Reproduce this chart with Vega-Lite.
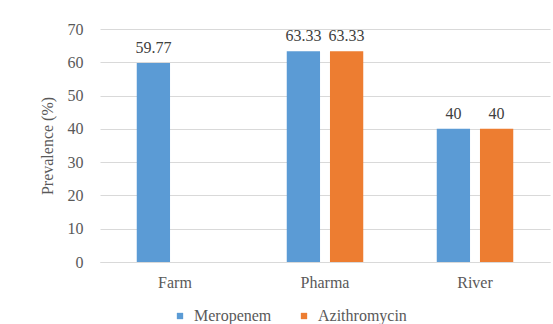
{
  "$schema": "https://vega.github.io/schema/vega-lite/v6.json",
  "width": 450,
  "height": 233,
  "autosize": "none",
  "padding": {"left": 100, "top": 29, "right": 3, "bottom": 62},
  "background": "white",
  "data": {
    "values": [
      {"site": "Farm", "drug": "Meropenem", "value": 59.77, "label": "59.77"},
      {"site": "Pharma", "drug": "Meropenem", "value": 63.33, "label": "63.33"},
      {"site": "Pharma", "drug": "Azithromycin", "value": 63.33, "label": "63.33"},
      {"site": "River", "drug": "Meropenem", "value": 40, "label": "40"},
      {"site": "River", "drug": "Azithromycin", "value": 40, "label": "40"}
    ]
  },
  "encoding": {
    "x": {
      "field": "site", "type": "nominal", "sort": ["Farm", "Pharma", "River"],
      "scale": {"paddingInner": 0.49, "paddingOuter": 0.245},
      "axis": {"title": null, "labelAngle": 0, "ticks": false, "domainColor": "#D9D9D9", "labelPadding": 12, "labelFontSize": 16, "labelColor": "#595959", "grid": false}
    },
    "xOffset": {
      "field": "drug", "type": "nominal", "sort": ["Meropenem", "Azithromycin"],
      "scale": {"paddingInner": 0.23, "paddingOuter": 0}
    },
    "y": {
      "field": "value", "type": "quantitative",
      "scale": {"domain": [0, 70], "nice": false},
      "axis": {"title": "Prevalence (%)", "values": [0, 10, 20, 30, 40, 50, 60, 70], "ticks": false, "domain": false, "gridColor": "#D9D9D9", "labelPadding": 17, "labelFontSize": 16, "labelColor": "#595959", "titleFontSize": 16, "titleFontWeight": "normal", "titleColor": "#595959", "titlePadding": 12}
    }
  },
  "layer": [
    {
      "mark": {"type": "bar"},
      "encoding": {
        "color": {
          "field": "drug", "type": "nominal", "sort": ["Meropenem", "Azithromycin"],
          "scale": {"domain": ["Meropenem", "Azithromycin"], "range": ["#5B9BD5", "#ED7D31"]},
          "legend": {"title": null, "orient": "none", "direction": "horizontal", "legendX": 72, "legendY": 279, "symbolType": "square", "symbolSize": 40, "symbolStrokeWidth": 0, "labelFontSize": 16, "labelColor": "#595959", "labelOffset": 6, "columnPadding": 24}
        }
      }
    },
    {
      "mark": {"type": "text", "baseline": "alphabetic", "dy": -10, "fontSize": 16, "color": "#404040"},
      "encoding": {"text": {"field": "label"}}
    }
  ],
  "config": {"view": {"stroke": null}, "font": "Liberation Serif"}
}
